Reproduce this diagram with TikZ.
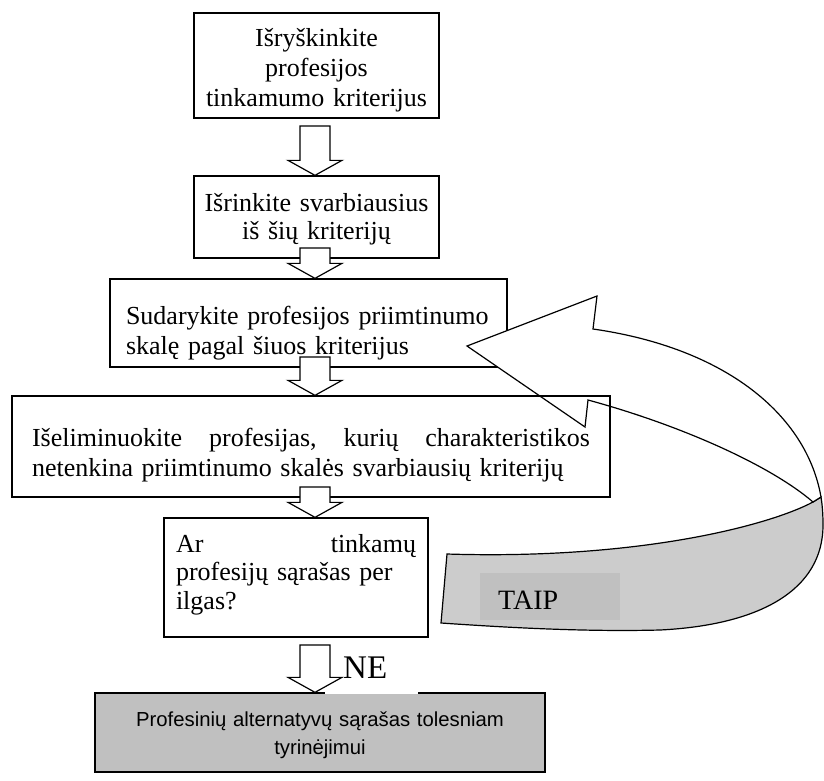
\documentclass[tikz,border=0pt]{standalone}
\usepackage{fontspec}
\setmainfont{Liberation Serif}
\newfontfamily\arialfont{Liberation Sans}
\usetikzlibrary{calc}
\definecolor{bandgray}{HTML}{CCCCCC}
\definecolor{boxgray}{HTML}{C0C0C0}
\newcommand{\hollowarrow}[3]{\draw[hollow] let \p1=(#1,#2), \p2=(#3.north) in (\x1-15pt,\y1) -- (\x1-15pt,\y2+15pt)
  -- (\x1-27pt,\y2+15pt) -- (\x1,\y2) -- (\x1+27pt,\y2+15pt) -- (\x1+15pt,\y2+15pt) -- (\x1+15pt,\y1) -- cycle;}
\begin{document}
\begin{tikzpicture}[x=1pt,y=-1pt,box/.style={draw, line width=1.3pt, inner ysep=0pt, inner xsep=10pt, anchor=base,
     font=\fontsize{26}{30}\selectfont},hollow/.style={draw, fill=white, line width=1.2pt, line join=miter},
     band/.style={draw, line width=1.2pt, line join=miter},label/.style={anchor=base west, inner sep=0pt, align=left}]
     \fill[white] (0,0) rectangle (824,780);\useasboundingbox (0,0) rectangle (824,780);
     \node (crit) [box, fill=white, text width=225pt, align=center, text height=33pt, text depth=72pt] at (316.5,46)
       {Išryškinkite\\ profesijos\\ tinkamumo kriterijus};
     \node (main) [box, fill=white, text width=225pt, align=center, text height=35pt, text depth=47pt,
       font=\fontsize{26}{28}\selectfont] at (316.5,211) {Išrinkite svarbiausius\\ iš šių kriterijų};
     \node (scale) [box, fill=white, inner xsep=16pt, text width=365pt, align=left, text height=45pt, text depth=43pt]
       at (308.5,324) {Sudarykite profesijos priimtinumo\\ skalę pagal šiuos kriterijus};
     \draw [band, fill=bandgray] (813,502) .. controls (770,525) and (640,560) .. (447,554) -- (441,623)
       .. controls (500,627) and (580,632) .. (660,630) .. controls (760,625) and (823,590) .. (823,525)
       .. controls (823,515.5) and (822.5,506.2) .. (821,497) -- cycle;
     \draw [band, fill=white] (593,329) -- (597,296) -- (467,346) -- (585,427) -- (588,400)
       .. controls (680,425) and (770,465) .. (813,502) -- (821,497) .. controls (806.6,414.6) and (725.3,347.9) .. (593,329) -- cycle;
     \node (elim) [box, inner xsep=20pt, text width=558pt, align=left, text height=50pt, text depth=51pt] at (311,446)
       {Išeliminuokite\hfill profesijas,\hfill kurių\hfill charakteristikos\\ netenkina priimtinumo skalės svarbiausių kriterijų};
     \node (yes) [label, fill=boxgray, text width=140pt, text height=36pt, text depth=11pt, font=\fontsize{28}{28}\selectfont]
       at (480,609) {\hspace*{18pt}TAIP};
     \node (query) [box, fill=white, inner xsep=12pt, text width=240pt, align=left, text height=34pt, text depth=85pt,
       font=\fontsize{26}{28.5}\selectfont] at (296,552) {Ar\hfill tinkamų\\ profesijų sąrašas per\\ ilgas?};
     \node (list) [box, fill=boxgray, text width=430pt, align=center, text height=33pt, text depth=46pt,
       font=\arialfont\fontsize{20.3}{28}\selectfont] at (320,726) {Profesinių alternatyvų sąrašas tolesniam\\ tyrinėjimui};
     \node (no) [label, fill=white, text width=93pt, text height=24pt, text depth=15.7pt, font=\fontsize{33}{33}\selectfont]
       at (325,678) {\hspace*{18pt}NE};
     \hollowarrow{315}{126}{main}\hollowarrow{315}{248}{scale}\hollowarrow{315}{357}{elim}
     \hollowarrow{315}{487}{query}\hollowarrow{315}{645}{list}
\end{tikzpicture}
\end{document}
